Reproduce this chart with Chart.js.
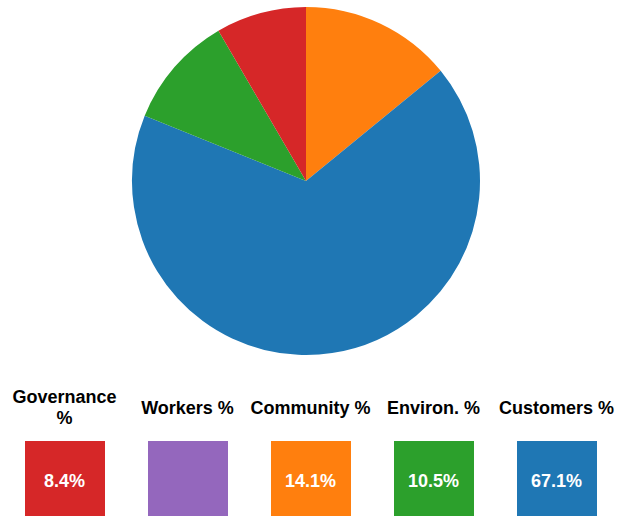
<!DOCTYPE html>
<html>
<head>
<meta charset="utf-8">
<script src="https://cdn.jsdelivr.net/npm/chart.js@4"></script>
<style>
  body { margin: 0; background: #fff; font-family: Arial, "Liberation Sans", sans-serif; }
  #wrap { position: relative; width: 625px; height: 516px; overflow: hidden; }
  #pie-box { position: absolute; left: 0; top: 0; width: 612px; height: 362px; }
  #cards { position: absolute; left: 3px; top: 380px; display: flex; }
  .col { width: 123px; display: flex; flex-direction: column; align-items: center; }
  .label { width: 120px; height: 56px; display: flex; align-items: center; justify-content: center;
           text-align: center; font-weight: bold; font-size: 18px; line-height: 21px; color: #000; }
  .swatch { margin-top: 5px; width: 80px; height: 80px; display: flex; align-items: center; justify-content: center;
            color: #fff; font-weight: bold; font-size: 18px; }
</style>
</head>
<body>
<div id="wrap">
  <div id="pie-box"><canvas id="grafico"></canvas></div>
  <div id="cards"></div>
</div>
<script>
// Dados do gráfico (ordem dos cartões)
const categorias = ['Governance %', 'Workers %', 'Community %', 'Environ. %', 'Customers %'];
const valores = [8.4, 0, 14.1, 10.5, 67.1];
const cores = ['#d62728', '#9467bd', '#ff7f0e', '#2ca02c', '#1f77b4'];
// ordem das fatias na pizza (sentido horário a partir do topo)
const ordemPizza = [2, 4, 3, 0, 1];

// Monta os cartões abaixo da pizza
const cards = document.getElementById('cards');
categorias.forEach((nome, i) => {
  const col = document.createElement('div');
  col.className = 'col';
  col.innerHTML = `
    <div class="label">${nome}</div>
    <div class="swatch" style="background:${cores[i]}">${valores[i] > 0 ? valores[i].toFixed(1) + '%' : ''}</div>
  `;
  cards.appendChild(col);
});

// Gráfico de pizza
const ctx = document.getElementById('grafico').getContext('2d');
new Chart(ctx, {
  type: 'pie',
  data: {
    labels: ordemPizza.map(i => categorias[i]),
    datasets: [{
      data: ordemPizza.map(i => valores[i]),
      backgroundColor: ordemPizza.map(i => cores[i]),
      borderWidth: 0
    }]
  },
  options: {
    responsive: true,
    maintainAspectRatio: false,
    animation: false,
    layout: { padding: 7 },
    plugins: {
      legend: { display: false },
      tooltip: { enabled: false }
    }
  }
});
</script>
</body>
</html>
